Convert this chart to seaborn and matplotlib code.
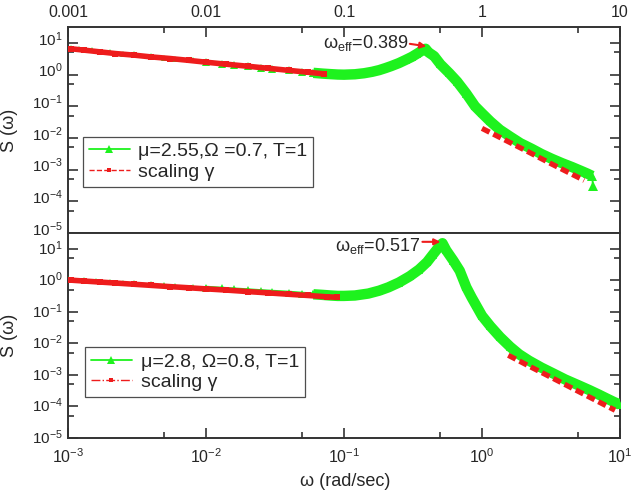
import matplotlib
matplotlib.use("Agg")
import matplotlib.pyplot as plt
import matplotlib.transforms as mtransforms
from matplotlib.lines import Line2D
from matplotlib.ticker import LogLocator, NullFormatter, FixedLocator, FixedFormatter
import numpy as np
import pandas as pd
import seaborn as sns

# ---------------- data ----------------
top_w = [0.00105, 0.0012, 0.0015, 0.002, 0.0025, 0.003, 0.004, 0.005, 0.006, 0.008,
         0.01, 0.013, 0.016, 0.02, 0.025, 0.03, 0.04, 0.05, 0.06, 0.07, 0.08, 0.09,
         0.1, 0.12, 0.14, 0.16, 0.18, 0.2, 0.22, 0.25, 0.28, 0.31, 0.34, 0.37, 0.39,
         0.41, 0.45, 0.5, 0.58, 0.66, 0.77, 0.89, 1.0, 1.15, 1.35, 1.6, 1.9, 2.3,
         2.7, 3.2, 3.8, 4.5, 5.2, 5.8, 6.3]
top_s = [6.8, 6.3, 5.8, 5.1, 4.6, 4.3, 3.8, 3.4, 3.1, 2.8,
         2.5, 2.2, 2.0, 1.8, 1.6, 1.5, 1.35, 1.22, 1.13, 1.07, 1.03, 1.0,
         0.99, 1.02, 1.1, 1.22, 1.38, 1.6, 1.85, 2.3, 2.9, 3.6, 4.6, 5.8, 6.5,
         5.0, 3.8, 2.1, 1.1, 0.6, 0.25, 0.1, 0.06, 0.033, 0.018, 0.011, 0.0068, 0.0045,
         0.0031, 0.0022, 0.0016, 0.0012, 0.00092, 0.00075, 0.00063]
top_last_w = [6.3, 6.35]
top_last_s = [0.00063, 0.0003]

top_red_lo_w = [0.00105, 0.0013, 0.0017, 0.0022, 0.003, 0.004, 0.0055, 0.0075, 0.01,
                0.014, 0.02, 0.028, 0.04, 0.055, 0.072]
top_red_lo_s = [6.5, 5.9, 5.2, 4.6, 4.1, 3.6, 3.2, 2.8, 2.45, 2.12, 1.83, 1.58, 1.35,
                1.18, 1.05]
top_red_hi_w = [1.0, 1.5, 2.2, 3.2, 4.5, 5.5]
top_red_hi_s = [0.02, 0.0082, 0.0035, 0.0015, 0.00071, 0.00046]

bot_w = [0.001, 0.0013, 0.0016, 0.002, 0.0025, 0.003, 0.004, 0.005, 0.006, 0.008,
         0.01, 0.013, 0.016, 0.02, 0.025, 0.03, 0.04, 0.05, 0.06, 0.07, 0.08, 0.09,
         0.1, 0.12, 0.15, 0.18, 0.21, 0.25, 0.3, 0.35, 0.4, 0.44, 0.48, 0.517,
         0.55, 0.62, 0.69, 0.77, 0.84, 0.9, 1.0, 1.15, 1.35, 1.6, 1.86, 2.2, 2.7,
         3.3, 4.0, 5.0, 6.0, 7.0, 8.0, 9.0, 10.0]
bot_s = [1.08, 1.0, 0.95, 0.9, 0.85, 0.81, 0.75, 0.71, 0.67, 0.62,
         0.59, 0.55, 0.52, 0.49, 0.46, 0.44, 0.41, 0.38, 0.36, 0.345, 0.33, 0.32,
         0.32, 0.33, 0.38, 0.47, 0.6, 0.85, 1.35, 2.2, 3.8, 6.5, 10.5, 15.0,
         9.0, 4.2, 2.0, 0.6, 0.29, 0.17, 0.075, 0.035, 0.016, 0.0078, 0.0045, 0.0028, 0.0017,
         0.0011, 0.00072, 0.00047, 0.00033, 0.00024, 0.00018, 0.00014, 0.000115]

bot_red_lo_w = [0.00105, 0.0013, 0.0017, 0.0022, 0.003, 0.004, 0.0055, 0.0075, 0.01,
                0.014, 0.02, 0.028, 0.04, 0.055, 0.075, 0.089]
bot_red_lo_s = [1.01, 0.95, 0.88, 0.82, 0.75, 0.69, 0.63, 0.58, 0.535, 0.49, 0.44,
                0.40, 0.36, 0.33, 0.30, 0.29]
bot_red_hi_w = [1.55, 2.2, 3.2, 4.5, 6.5, 9.2]
bot_red_hi_s = [0.0042, 0.00189, 0.00082, 0.00038, 0.000166, 0.000076]

top_label = "μ=2.55,Ω =0.7, T=1"
bot_label = "μ=2.8, Ω=0.8, T=1"
red_label = "scaling γ"
top_peak = "0.389"
bot_peak = "0.517"
top_xticklabels = ["0.001", "0.01", "0.1", "1", "10"]
decades = [1e-3, 1e-2, 1e-1, 1e0, 1e1]

# ---------------- style ----------------
sns.set_style("white")
plt.rcParams["font.family"] = ["Liberation Sans", "DejaVu Sans"]
plt.rcParams["mathtext.fontset"] = "custom"
plt.rcParams["mathtext.rm"] = "Liberation Sans"
plt.rcParams["mathtext.it"] = "Liberation Sans:italic"
plt.rcParams["mathtext.bf"] = "Liberation Sans:bold"

GREEN = "#1ef21e"
RED = "#ee1c1c"
EDGE = "#333333"

fig = plt.figure(figsize=(6.4, 4.93), dpi=100)
L, R = 68 / 640, 620 / 640
ytop, ymid, ybot = 1 - 27 / 493, 1 - 233 / 493, 1 - 438 / 493
ax1 = fig.add_axes([L, ymid, R - L, ytop - ymid])
ax2 = fig.add_axes([L, ybot, R - L, ymid - ybot])


def seg(ax, df, lw, ms, color, **kw):
    sns.lineplot(data=df, x="w", y="s", ax=ax, sort=False, estimator=None,
                 color=color, lw=lw, markersize=ms, markeredgewidth=0, **kw)


def draw_green(ax, w, s):
    df = pd.DataFrame({"w": w, "s": s})
    seg(ax, df[df.w <= 0.0101], 1.3, 5, GREEN, marker="^", zorder=3)
    seg(ax, df[(df.w >= 0.0099) & (df.w <= 0.0601)], 2.6, 5.5, GREEN, marker="^",
        zorder=3)
    seg(ax, df[df.w >= 0.0599], 7.5, 6, GREEN, marker="^", zorder=3,
        solid_capstyle="butt")


def draw_red(ax, w_lo, s_lo, w_hi, s_hi):
    lo = pd.DataFrame({"w": w_lo, "s": s_lo})
    hi = pd.DataFrame({"w": w_hi, "s": s_hi})
    seg(ax, lo, 4.0, 4, RED, marker="s", zorder=4)
    seg(ax, hi, 3.8, 0, RED, linestyle=(0, (1.6, 0.8)), zorder=4)


draw_green(ax1, top_w, top_s)
seg(ax1, pd.DataFrame({"w": top_last_w, "s": top_last_s}), 1.3, 6.5, GREEN,
    marker="^", zorder=3)
draw_red(ax1, top_red_lo_w, top_red_lo_s, top_red_hi_w, top_red_hi_s)
draw_green(ax2, bot_w, bot_s)
draw_red(ax2, bot_red_lo_w, bot_red_lo_s, bot_red_hi_w, bot_red_hi_s)

for ax in (ax1, ax2):
    ax.set_xscale("log")
    ax.set_yscale("log")
    ax.set_xlim(1e-3, 1e1)
    ax.set_ylim(1e-5, 10 ** 1.5)
    ax.yaxis.set_major_locator(FixedLocator([1e-5, 1e-4, 1e-3, 1e-2, 1e-1, 1e0, 1e1]))
    ax.yaxis.set_minor_locator(LogLocator(base=10, subs=[5.0], numticks=20))
    ax.yaxis.set_minor_formatter(NullFormatter())
    ax.xaxis.set_major_locator(FixedLocator(decades))
    ax.xaxis.set_minor_locator(LogLocator(base=10, subs=[5.0], numticks=20))
    ax.xaxis.set_minor_formatter(NullFormatter())
    for sp in ax.spines.values():
        sp.set_linewidth(1.4)
        sp.set_color(EDGE)
    ax.tick_params(axis="y", which="both", direction="in", left=True, right=True,
                   labelsize=11, pad=4, color=EDGE, width=1.2)
    ax.tick_params(axis="y", which="major", length=7)
    ax.tick_params(axis="y", which="minor", length=4)
    ax.set_ylabel("S (ω)", fontsize=13)
    ax.yaxis.set_label_coords(-0.09, 0.5)
    ax.set_xlabel("")

# top panel: ticks on top only, decimal labels
ax1.tick_params(axis="x", which="both", direction="in", top=True, bottom=False,
                labeltop=True, labelbottom=False, labelsize=11.5, pad=5,
                color=EDGE, width=1.2)
ax1.tick_params(axis="x", which="major", length=7)
ax1.tick_params(axis="x", which="minor", length=4)
ax1.xaxis.set_major_formatter(FixedFormatter(top_xticklabels))

# bottom panel: ticks on bottom only
ax2.tick_params(axis="x", which="both", direction="in", top=False, bottom=True,
                labelsize=11.5, pad=7, color=EDGE, width=1.2)
ax2.tick_params(axis="x", which="major", length=7)
ax2.tick_params(axis="x", which="minor", length=4)
ax2.set_xlabel("ω (rad/sec)", fontsize=13)
ax2.xaxis.set_label_coords(0.502, -0.172)

# annotations
ax1.text(0.0705, 9.6, "ω$_{\\mathrm{eff}}$=" + top_peak, fontsize=13,
         ha="left", va="center")
ax1.annotate("", xy=(0.395, 7.8), xytext=(0.30, 9.3),
             arrowprops=dict(arrowstyle="-|>", color=RED, lw=1.5,
                             mutation_scale=9, shrinkA=0, shrinkB=0))
ax2.text(0.086, 12.4, "ω$_{\\mathrm{eff}}$=" + bot_peak, fontsize=13,
         ha="left", va="center")
ax2.annotate("", xy=(0.50, 16.6), xytext=(0.37, 16.6),
             arrowprops=dict(arrowstyle="-|>", color=RED, lw=1.5,
                             mutation_scale=9, shrinkA=0, shrinkB=0))


# legends
def legend(ax, lab1, ls2, anchor):
    h1 = Line2D([], [], color=GREEN, lw=1.3, marker="^", markersize=6,
                markeredgewidth=0)
    h2 = Line2D([], [], color=RED, lw=1.0, linestyle=ls2, marker="s",
                markersize=3, markeredgewidth=0)
    lg = ax.legend([h1, h2], [lab1, red_label], loc="lower left",
                   bbox_to_anchor=anchor, fontsize=14, frameon=True,
                   fancybox=False, edgecolor="#222222", handlelength=2.1,
                   handletextpad=0.45, borderpad=0.3, labelspacing=0.15,
                   borderaxespad=0)
    lg.get_frame().set_linewidth(0.9)


legend(ax1, top_label, "--", (0.027, 0.225))
legend(ax2, bot_label, "-.", (0.031, 0.20))

# shift y tick labels up slightly, as in the reference
fig.canvas.draw()
for ax, up in ((ax1, 5), (ax2, 2)):
    offset = mtransforms.ScaledTranslation(0, up / 100, fig.dpi_scale_trans)
    for lab in ax.get_yticklabels():
        lab.set_transform(lab.get_transform() + offset)

fig.savefig("out.png", dpi=100)
